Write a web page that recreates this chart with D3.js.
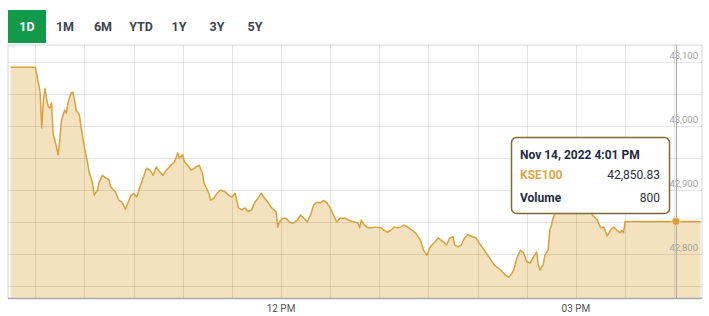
<!DOCTYPE html>
<html>
<head>
<meta charset="utf-8">
<script src="https://cdn.jsdelivr.net/npm/d3@7"></script>
<style>
  html, body { margin: 0; padding: 0; background: #fff; }
  svg { display: block; font-family: Roboto, "Noto Sans", sans-serif; }
</style>
</head>
<body>
<svg id="chart" width="709" height="316"></svg>
<script>
// range buttons
const ranges = ['1D', '1M', '6M', 'YTD', '1Y', '3Y', '5Y'];
const activeRange = '1D';

// intraday KSE100, 14 Nov 2022
const times = [
  '09:15', '09:30', '09:32', '09:33', '09:34', '09:35', '09:36', '09:37', '09:38', '09:39',
  '09:40', '09:41', '09:42', '09:43', '09:44', '09:45', '09:46', '09:48', '09:49', '09:50',
  '09:51', '09:52', '09:53', '09:54', '09:55', '09:57', '09:58', '10:00', '10:02', '10:03',
  '10:05', '10:06', '10:08', '10:09', '10:11', '10:13', '10:15', '10:16', '10:19', '10:21',
  '10:23', '10:25', '10:28', '10:30', '10:32', '10:34', '10:36', '10:38', '10:40', '10:42',
  '10:44', '10:46', '10:48', '10:50', '10:53', '10:55', '10:57', '10:58', '11:00', '11:01',
  '11:03', '11:05', '11:07', '11:10', '11:12', '11:13', '11:16', '11:17', '11:19', '11:21',
  '11:23', '11:26', '11:28', '11:30', '11:32', '11:34', '11:36', '11:38', '11:40', '11:42',
  '11:44', '11:46', '11:48', '11:50', '11:52', '11:54', '11:57', '11:58', '11:59', '12:01',
  '12:03', '12:05', '12:07', '12:10', '12:12', '12:14', '12:16', '12:18', '12:20', '12:22',
  '12:24', '12:26', '12:28', '12:30', '12:32', '12:34', '12:36', '12:39', '12:42', '12:45',
  '12:47', '12:48', '12:49', '12:51', '12:53', '12:55', '12:58', '13:01', '13:03', '13:05',
  '13:07', '13:09', '13:11', '13:13', '13:15', '13:18', '13:22', '13:25', '13:27', '13:29',
  '13:31', '13:34', '13:36', '13:39', '13:41', '13:43', '13:45', '13:46', '13:48', '13:50',
  '13:52', '13:54', '13:57', '13:59', '14:01', '14:04', '14:07', '14:10', '14:14', '14:17',
  '14:19', '14:21', '14:22', '14:24', '14:26', '14:28', '14:30', '14:32', '14:34', '14:36',
  '14:37', '14:38', '14:40', '14:41', '14:43', '14:44', '14:45', '14:46', '14:48', '14:49',
  '14:50', '14:52', '14:53', '14:55', '14:57', '14:59', '15:01', '15:02', '15:04', '15:07',
  '15:09', '15:10', '15:13', '15:15', '15:17', '15:19', '15:21', '15:23', '15:25', '15:27',
  '15:28', '15:29', '15:30', '16:01', '16:16'
];
const values = [
  43092, 43092, 43067, 43052, 42997, 43041, 43059, 43041, 43030, 43028,
  43036, 42986, 42978, 42967, 42955, 42978, 43009, 43025, 43020, 43036,
  43045, 43052, 43053, 43041, 43025, 43017, 42998, 42967, 42942, 42927,
  42911, 42892, 42900, 42912, 42923, 42919, 42916, 42905, 42897, 42884,
  42881, 42870, 42889, 42895, 42889, 42905, 42920, 42934, 42931, 42923,
  42936, 42928, 42923, 42931, 42939, 42944, 42958, 42950, 42955, 42944,
  42939, 42931, 42934, 42939, 42927, 42911, 42895, 42884, 42887, 42895,
  42900, 42897, 42892, 42889, 42895, 42872, 42869, 42872, 42866, 42869,
  42881, 42887, 42895, 42887, 42881, 42873, 42866, 42842, 42850, 42856,
  42856, 42850, 42848, 42853, 42861, 42856, 42850, 42861, 42877, 42881,
  42880, 42884, 42880, 42872, 42861, 42850, 42856, 42856, 42852, 42850,
  42848, 42841, 42853, 42845, 42841, 42841, 42842, 42841, 42837, 42834,
  42837, 42842, 42841, 42842, 42845, 42841, 42833, 42822, 42806, 42798,
  42811, 42819, 42825, 42819, 42814, 42825, 42827, 42814, 42811, 42814,
  42825, 42830, 42827, 42825, 42817, 42806, 42795, 42783, 42775, 42767,
  42764, 42770, 42775, 42794, 42806, 42802, 42788, 42786, 42795, 42803,
  42783, 42775, 42783, 42798, 42806, 42837, 42845, 42856, 42869, 42872,
  42866, 42872, 42869, 42873, 42869, 42870, 42877, 42873, 42869, 42873,
  42869, 42861, 42853, 42841, 42842, 42828, 42837, 42842, 42837, 42833,
  42837, 42833, 42850.83, 42850.83, 42850.83
];

const yLabelTicks = [42800, 42900, 43000, 43100];
const yGridTicks = [42750, 42800, 42850, 42900, 42950, 43000, 43050, 43100];
const xLabelTicks = ['12:00', '15:00'];

// hovered point shown in the tooltip
const hoverTime = '16:01';
const hoverVolume = 800;
const seriesName = 'KSE100';

const day = '2022-11-14';
const parse = d3.timeParse('%Y-%m-%d %H:%M:%S');
const at = t => parse(`${day} ${t.length === 5 ? t + ':00' : t}`);

const data = times.map((t, i) => ({ t: at(t), v: values[i] }));

const svg = d3.select('#chart');
const box = { left: 8, right: 702, top: 45, bottom: 298 };

const x = d3.scaleTime()
  .domain([at('09:13:24'), at('16:16:54')])
  .range([box.left, box.right]);
const y = d3.scaleLinear()
  .domain([42731.25, 43126.6])
  .range([box.bottom, box.top]);

const gold = '#d7a23c';

// ---- range buttons
const btnX = d3.scalePoint().domain(ranges).range([27, 255]);
const btn = svg.append('g');
btn.append('rect')
  .attr('x', btnX(activeRange) - 19).attr('y', 10)
  .attr('width', 38).attr('height', 33)
  .attr('fill', '#13994a');
btn.selectAll('text').data(ranges).join('text')
  .attr('x', d => btnX(d)).attr('y', 31)
  .attr('text-anchor', 'middle')
  .attr('font-size', 12.5).attr('font-weight', 700)
  .attr('fill', d => d === activeRange ? '#fff' : '#3d4550')
  .text(d => d);

// ---- plot frame
svg.append('rect')
  .attr('x', box.left).attr('y', box.top)
  .attr('width', box.right - box.left).attr('height', box.bottom - box.top)
  .attr('fill', '#fff').attr('stroke', '#d6d6d6').attr('stroke-width', 1);

// area + line
const area = d3.area().x(d => x(d.t)).y0(box.bottom).y1(d => y(d.v));
const line = d3.line().x(d => x(d.t)).y(d => y(d.v));

svg.append('path').datum(data)
  .attr('d', area).attr('fill', '#f4e2bf');

// grid (drawn over the fill, faint)
const grid = svg.append('g').attr('stroke', 'rgba(0,0,0,0.1)').attr('stroke-width', 1);
grid.selectAll('line.h').data(yGridTicks).join('line')
  .attr('class', 'h')
  .attr('x1', box.left).attr('x2', box.right)
  .attr('y1', d => Math.round(y(d)) + 0.5).attr('y2', d => Math.round(y(d)) + 0.5);
const halfHours = d3.timeMinute.every(30).range(at('09:30'), at('16:01'));
grid.selectAll('line.v').data(halfHours).join('line')
  .attr('class', 'v')
  .attr('y1', box.top).attr('y2', box.bottom)
  .attr('x1', d => Math.round(x(d)) + 0.5).attr('x2', d => Math.round(x(d)) + 0.5);

svg.append('path').datum(data)
  .attr('d', line).attr('fill', 'none')
  .attr('stroke', gold).attr('stroke-width', 1.5)
  .attr('stroke-linejoin', 'round');

// bottom axis line
svg.append('line')
  .attr('x1', box.left).attr('x2', box.right)
  .attr('y1', box.bottom + 0.5).attr('y2', box.bottom + 0.5)
  .attr('stroke', '#a9a9a9').attr('stroke-width', 1.5);

// y labels (right, above the grid line)
svg.append('g').selectAll('text').data(yLabelTicks).join('text')
  .attr('x', 698).attr('y', d => y(d) - 3.5)
  .attr('text-anchor', 'end')
  .attr('font-size', 9.5).attr('fill', '#a3a3a3')
  .text(d => d3.format(',')(d));

// x labels
const fmtX = d3.timeFormat('%I %p');
svg.append('g').selectAll('text').data(xLabelTicks.map(at)).join('text')
  .attr('x', d => x(d)).attr('y', 312)
  .attr('text-anchor', 'middle')
  .attr('font-size', 10).attr('fill', '#555')
  .text(d => fmtX(d));

// ---- hover crosshair + point
const hp = data.find(d => +d.t === +at(hoverTime));
const hx = x(hp.t), hy = y(hp.v);
svg.append('line')
  .attr('x1', Math.round(hx) + 0.5).attr('x2', Math.round(hx) + 0.5)
  .attr('y1', box.top).attr('y2', box.bottom)
  .attr('stroke', '#a8a8a8').attr('stroke-width', 1);
svg.append('circle')
  .attr('cx', hx).attr('cy', hy).attr('r', 4)
  .attr('fill', gold).attr('stroke', '#f1d9a6').attr('stroke-width', 1);

// ---- tooltip
const tip = svg.append('g').attr('transform', 'translate(511,137)');
tip.append('rect')
  .attr('x', 0.5).attr('y', 0.5).attr('width', 158).attr('height', 76)
  .attr('rx', 5)
  .attr('fill', '#fff').attr('stroke', '#7d6a35').attr('stroke-width', 1.5);
const fmtTip = d3.timeFormat('%b %-d, %Y %-I:%M %p');
tip.append('text').attr('x', 9).attr('y', 22)
  .attr('font-size', 12).attr('font-weight', 700).attr('fill', '#1f2b3d')
  .text(fmtTip(hp.t));
tip.append('text').attr('x', 9).attr('y', 42)
  .attr('font-size', 12).attr('font-weight', 700).attr('fill', '#dba84c')
  .text(seriesName);
tip.append('text').attr('x', 149).attr('y', 42).attr('text-anchor', 'end')
  .attr('font-size', 12).attr('fill', '#2a2f38')
  .text(d3.format(',.2f')(hp.v));
tip.append('text').attr('x', 9).attr('y', 65)
  .attr('font-size', 12).attr('font-weight', 700).attr('fill', '#1f2b3d')
  .text('Volume');
tip.append('text').attr('x', 149).attr('y', 65).attr('text-anchor', 'end')
  .attr('font-size', 12).attr('fill', '#2a2f38')
  .text(d3.format(',')(hoverVolume));
</script>
</body>
</html>
